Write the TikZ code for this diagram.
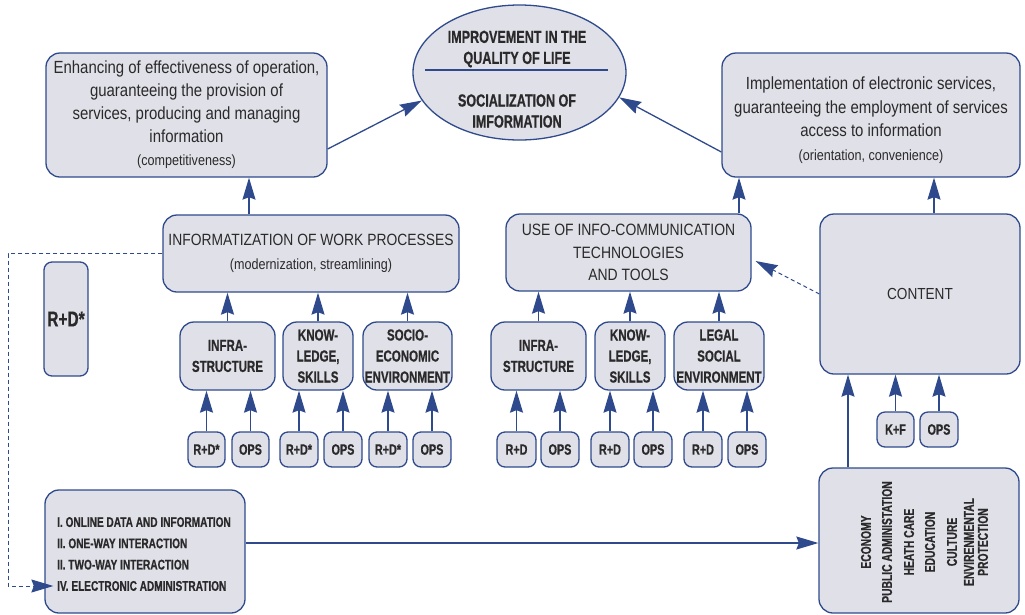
\documentclass[tikz,border=0pt]{standalone}
\usepackage{fontspec}
\setmainfont{Liberation Sans}[FakeStretch=0.85]
\newfontfamily\cbf{Liberation Sans}[FakeStretch=0.72, FakeBold=0.6]
\usetikzlibrary{arrows.meta,shapes.geometric,calc}
\definecolor{bfill}{HTML}{E0E0E9}
\definecolor{bdraw}{HTML}{2F4A8C}
\definecolor{txt}{HTML}{2A2A2A}
\begin{document}
\begin{tikzpicture}[x=1pt,y=-1pt,
  box/.style={draw=bdraw, fill=bfill, line width=1.3pt, rounded corners=14pt, inner sep=0pt, text=txt, align=center},
  sbox/.style={box, rounded corners=8pt, minimum height=35pt, font=\cbf\bfseries\fontsize{15}{16}\selectfont},
  subbox/.style={box, minimum height=68pt, font=\cbf\bfseries\fontsize{16}{21}\selectfont},
  lbl/.style={text=txt, align=center, inner sep=0pt},
  arr/.style={draw=bdraw, line width=1.3pt, -{Stealth[length=22pt,width=13pt,inset=2.5pt]}},
  darr/.style={draw=bdraw, line width=1pt, dash pattern=on 4pt off 3pt, -{Stealth[length=22pt,width=13pt,inset=2.5pt]}},
  stxt/.style={lbl, rotate=90, font=\cbf\bfseries\fontsize{14.3}{15}\selectfont}
]
\useasboundingbox (0,0) rectangle (1025,614);

% top level
\node[box, minimum width=281pt, minimum height=124pt, font=\fontsize{17.6}{23}\selectfont] (A) at (186.5,115)
  {Enhancing of effectiveness of operation,\\ guaranteeing the provision of\\ services, producing and managing\\ information\\ {\fontsize{14.8}{17}\selectfont (competitiveness)}};
\node[ellipse, draw=bdraw, fill=bfill, line width=1.3pt, minimum width=213pt, minimum height=135pt, inner sep=0pt] (E) at (519.5,72.5) {};
\node[lbl, font=\cbf\bfseries\fontsize{17.5}{21}\selectfont] (Et) at (517,49) {IMPROVEMENT IN THE\\ QUALITY OF LIFE};
\node[lbl, font=\cbf\bfseries\fontsize{17.5}{21}\selectfont] (Eb) at (517,111) {SOCIALIZATION OF\\ IMFORMATION};
\coordinate (el1) at (425,70);
\coordinate (el2) at (608,70);
\draw[draw=bdraw, line width=2pt] (el1) -- (el2);

\node[box, minimum width=298pt, minimum height=124pt] (B) at (871,115) {};
\node[lbl, font=\fontsize{17.6}{23.5}\selectfont] (Bt) at (871,120)
  {Implementation of electronic services,\\ guaranteeing the employment of services\\ access to information\\ {\fontsize{14.8}{17}\selectfont (orientation, convenience)}};

% middle level
\node[box, minimum width=296pt, minimum height=77pt, font=\fontsize{16.3}{24}\selectfont] (I) at (311,253.5)
  {INFORMATIZATION OF WORK PROCESSES\\ {\fontsize{14.8}{17}\selectfont (modernization, streamlining)}};
\node[box, rounded corners=8pt, minimum width=44pt, minimum height=114pt, font=\cbf\bfseries\fontsize{21.5}{24}\selectfont] (RD) at (66,319) {R+D*};
\node[box, minimum width=245pt, minimum height=77pt, font=\fontsize{16.4}{22.5}\selectfont] (ICT) at (628.5,252.5)
  {USE OF INFO-COMMUNICATION\\ TECHNOLOGIES\\ AND TOOLS};
\node[box, minimum width=200pt, minimum height=160pt, font=\fontsize{16}{20}\selectfont] (CT) at (920,294) {CONTENT};

% sub boxes
\node[subbox, minimum width=95pt] (L1) at (227.5,356) {INFRA-\\STRUCTURE};
\node[subbox, minimum width=70pt] (L2) at (318,356) {KNOW-\\LEDGE,\\SKILLS};
\node[subbox, minimum width=89pt] (L3) at (407.5,356) {SOCIO-\\ECONOMIC\\ENVIRONMENT};
\node[subbox, minimum width=95pt] (R1) at (538.5,356) {INFRA-\\STRUCTURE};
\node[subbox, minimum width=70pt] (R2) at (630,356) {KNOW-\\LEDGE,\\SKILLS};
\node[subbox, minimum width=90pt] (R3) at (719,356) {LEGAL\\SOCIAL\\ENVIRONMENT};

% small boxes
\node[sbox, minimum width=37pt] (l1a) at (206.5,449.5) {R+D*};
\node[sbox, minimum width=37pt] (l1b) at (250.5,449.5) {OPS};
\node[sbox, minimum width=38pt] (l2a) at (299,449.5) {R+D*};
\node[sbox, minimum width=38pt] (l2b) at (343,449.5) {OPS};
\node[sbox, minimum width=38pt] (l3a) at (388,449.5) {R+D*};
\node[sbox, minimum width=38pt] (l3b) at (432,449.5) {OPS};
\node[sbox, minimum width=39pt] (r1a) at (516.5,449.5) {R+D};
\node[sbox, minimum width=38pt] (r1b) at (560,449.5) {OPS};
\node[sbox, minimum width=38pt] (r2a) at (610,449.5) {R+D};
\node[sbox, minimum width=38pt] (r2b) at (653,449.5) {OPS};
\node[sbox, minimum width=38pt] (r3a) at (703,449.5) {R+D};
\node[sbox, minimum width=38pt] (r3b) at (747,449.5) {OPS};
\node[sbox, minimum width=37pt] (kf) at (895.5,429.5) {K+F};
\node[sbox, minimum width=38pt] (kops) at (939,429.5) {OPS};

% bottom boxes
\node[box, minimum width=200pt, minimum height=123pt] (LB) at (145,551.5) {};
\node[lbl, anchor=west, align=left, font=\cbf\bfseries\fontsize{14}{21.3}\selectfont] (LBt) at (57,554)
  {I. ONLINE DATA AND INFORMATION\\ II. ONE-WAY INTERACTION\\ II. TWO-WAY INTERACTION\\ IV. ELECTRONIC ADMINISTRATION};
\node[box, minimum width=200pt, minimum height=145pt] (S) at (919,540.5) {};
\node[stxt] (s1) at (866,542) {ECONOMY};
\node[stxt] (s2) at (887,542) {PUBLIC ADMINISTATION};
\node[stxt] (s3) at (909,542) {HEATH CARE};
\node[stxt] (s4) at (930,542) {EDUCATION};
\node[stxt] (s5) at (952,542) {CULTURE};
\node[stxt, font=\cbf\bfseries\fontsize{14.3}{14}\selectfont] (s6) at (976,542) {ENVIRENMENTAL\\PROTECTION};

% connectors
\foreach \s/\t in {l1a/L1,l1b/L1,l2a/L2,l2b/L2,l3a/L3,l3b/L3,r1a/R1,r1b/R1,r2a/R2,r2b/R2,r3a/R3,r3b/R3,kf/CT,kops/CT}
  \draw[arr] (\s.north) -- (\s.north |- \t.south);
\foreach \s in {L1,L2,L3}
  \draw[arr] (\s.north) -- (\s.north |- I.south);
\foreach \s in {R1,R2,R3}
  \draw[arr] (\s.north) -- (\s.north |- ICT.south);

\coordinate (xa) at (249,0);
\coordinate (xb) at (739,0);
\coordinate (xc) at (934,0);
\coordinate (xd) at (848,0);
\coordinate (ya) at (0,149);
\coordinate (yb) at (0,152);
\coordinate (yc) at (0,543);
\draw[arr] (xa |- I.north) -- (xa |- A.south);
\draw[arr] (xb |- ICT.north) -- (xb |- B.south);
\draw[arr] (xc |- CT.north) -- (xc |- B.south);
\draw[arr] (xd |- S.north) -- (xd |- CT.south);
\draw[arr] (A.east |- ya) -- (E.196);
\draw[arr] (B.west |- yb) -- (E.-14);
\draw[darr] (CT.west) -- ($(ICT.east)+(4,8.5)$);
\draw[darr] (I.west) -- ++(-154,0) |- ($(LB.west)+(9,34.5)$);
\draw[arr] (LB.east |- yc) -- (S.west |- yc);
\end{tikzpicture}
\end{document}
